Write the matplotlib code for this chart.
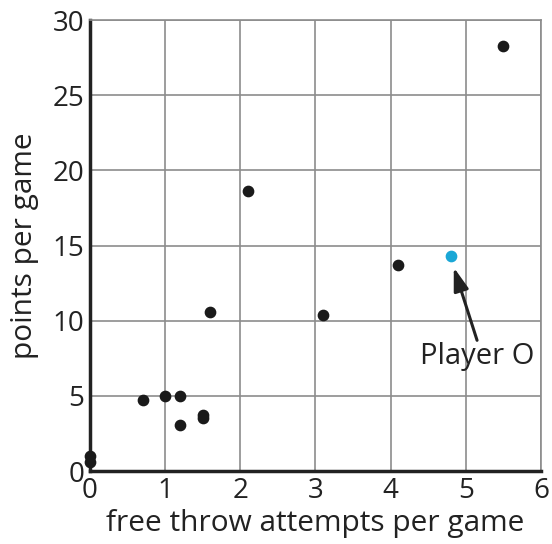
import matplotlib.pyplot as plt

plt.rcParams["font.family"] = ["Open Sans", "DejaVu Sans"]

# free throw attempts per game vs points per game
attempts = [0, 0, 0.7, 1.0, 1.2, 1.2, 1.5, 1.5, 1.6, 2.1, 3.1, 4.1, 5.5]
points = [1.0, 0.6, 4.7, 5.0, 5.0, 3.1, 3.7, 3.5, 10.6, 18.6, 10.4, 13.7, 28.3]

# highlighted player
player_o_attempts = 4.8
player_o_points = 14.3

fig = plt.figure(figsize=(5.52, 5.44), dpi=100)
ax = fig.add_axes([0.163, 0.134, 0.817, 0.829])

ax.scatter(attempts, points, s=55, color="#1a1a1a", zorder=3, clip_on=False)
ax.scatter([player_o_attempts], [player_o_points], s=55, color="#1aa7d6", zorder=3)

# label and arrow for Player O
ax.text(5.15, 7.6, "Player O", ha="center", va="center", fontsize=21, color="#222222")
ax.annotate("", xy=(4.84, 13.55), xytext=(5.15, 8.7),
            arrowprops=dict(arrowstyle="-|>,head_length=1.4,head_width=0.45",
                            color="#222222", lw=2.2, shrinkA=0, shrinkB=0))

ax.set_xlim(0, 6)
ax.set_ylim(0, 30)
ax.set_xticks(range(0, 7))
ax.set_yticks(range(0, 31, 5))
ax.grid(color="#8c8c8c", lw=1.2)
ax.set_axisbelow(True)

ax.tick_params(length=0, labelsize=20, labelcolor="#222222", pad=4)
for side in ["top", "right"]:
    ax.spines[side].set_color("#8c8c8c")
    ax.spines[side].set_linewidth(1.2)
for side in ["left", "bottom"]:
    ax.spines[side].set_color("#222222")
    ax.spines[side].set_linewidth(2.5)

ax.set_xlabel("free throw attempts per game", fontsize=21.5, color="#222222", labelpad=3)
ax.set_ylabel("points per game", fontsize=21.5, color="#222222", labelpad=10)

fig.savefig("out.png", dpi=100)
